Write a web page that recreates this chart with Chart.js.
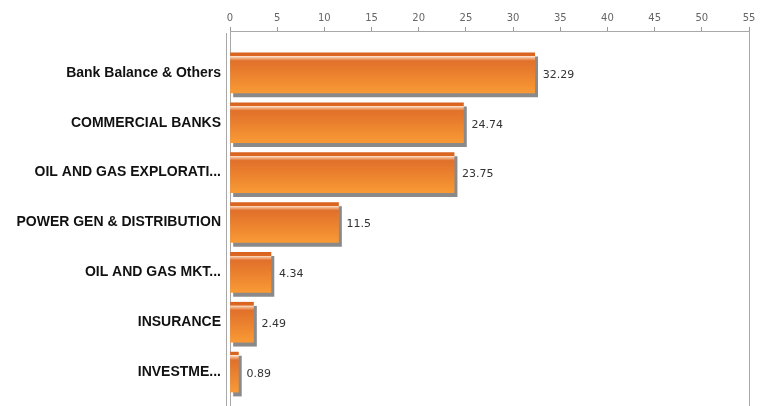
<!DOCTYPE html>
<html>
<head>
<meta charset="utf-8">
<script src="https://cdn.jsdelivr.net/npm/chart.js@4"></script>
<style>
  html, body { margin: 0; padding: 0; background: #fff; overflow: hidden; }
  #wrap { width: 763px; height: 406px; }
</style>
</head>
<body>
<div id="wrap"><canvas id="sectorChart" width="763" height="406"></canvas></div>
<script>
const sectors = [
  'Bank Balance & Others',
  'COMMERCIAL BANKS',
  'OIL AND GAS EXPLORATI...',
  'POWER GEN & DISTRIBUTION',
  'OIL AND GAS MKT...',
  'INSURANCE',
  'INVESTME...'
];
const weights = [32.29, 24.74, 23.75, 11.5, 4.34, 2.49, 0.89];
const xTicks = [0, 5, 10, 15, 20, 25, 30, 35, 40, 45, 50, 55];

// orange bar with dark top strip + light highlight
function barFill(c) {
  const chart = c.chart;
  if (!chart.chartArea) return '#EE8030';
  const y = chart.scales.y.getPixelForValue(c.dataIndex);
  const g = chart.ctx.createLinearGradient(0, y - 20, 0, y + 20);
  g.addColorStop(0, '#D8621E');
  g.addColorStop(0.08, '#DC6822');
  g.addColorStop(0.085, '#FBE4D2');
  g.addColorStop(0.13, '#F3B286');
  g.addColorStop(0.2, '#E1702A');
  g.addColorStop(1, '#F99A35');
  return g;
}

const barShadow = {
  id: 'barShadow',
  beforeDatasetsDraw(chart) {
    const ctx = chart.ctx;
    ctx.save();
    ctx.shadowColor = '#8a8a8a';
    ctx.shadowOffsetX = 3;
    ctx.shadowOffsetY = 4;
    ctx.shadowBlur = 0;
  },
  afterDatasetsDraw(chart) {
    chart.ctx.restore();
  }
};

const valueLabels = {
  id: 'valueLabels',
  afterDatasetsDraw(chart) {
    const ctx = chart.ctx;
    const meta = chart.getDatasetMeta(0);
    ctx.save();
    ctx.font = '11px "DejaVu Sans"';
    ctx.fillStyle = '#333';
    ctx.textBaseline = 'middle';
    ctx.textAlign = 'left';
    meta.data.forEach((bar, i) => {
      ctx.fillText(String(weights[i]), bar.x + 8, bar.y + 2);
    });
    ctx.restore();
  }
};

const frame = {
  id: 'frame',
  afterDraw(chart) {
    const { ctx, chartArea } = chart;
    ctx.save();
    ctx.strokeStyle = '#a8a8a8';
    ctx.lineWidth = 1;
    ctx.beginPath();
    ctx.moveTo(Math.round(chartArea.right) + 0.5, chartArea.top);
    ctx.lineTo(Math.round(chartArea.right) + 0.5, chartArea.bottom);
    ctx.moveTo(Math.round(chartArea.left) - 3.5, chartArea.top + 2);
    ctx.lineTo(Math.round(chartArea.left) - 3.5, chartArea.bottom);
    ctx.stroke();
    ctx.restore();
  }
};

new Chart(document.getElementById('sectorChart'), {
  type: 'bar',
  data: {
    datasets: [{
      data: weights.map((v, i) => ({ x: v, y: i })),
      backgroundColor: barFill,
      borderWidth: 0,
      barThickness: 40
    }]
  },
  options: {
    indexAxis: 'y',
    responsive: false,
    animation: false,
    layout: { padding: { left: 0, right: 14, top: 0, bottom: 0 } },
    plugins: {
      legend: { display: false },
      tooltip: { enabled: false }
    },
    scales: {
      x: {
        position: 'top',
        min: 0,
        max: 55,
        afterBuildTicks: s => { s.ticks = xTicks.map(v => ({ value: v })); },
        afterFit: s => { s.height = 31; },
        grid: { drawOnChartArea: false, tickLength: 4, color: '#999' },
        border: { color: '#a8a8a8' },
        ticks: {
          color: '#666',
          padding: 3,
          maxRotation: 0,
          font: { family: 'DejaVu Sans', size: 10 }
        }
      },
      y: {
        type: 'linear',
        reverse: true,
        offset: false,
        min: -0.84,
        max: 6.68,
        afterBuildTicks: s => { s.ticks = sectors.map((_, i) => ({ value: i })); },
        afterFit: s => { s.width = 230; s.paddingTop = 0; s.paddingBottom = 0; },
        grid: { display: false, drawTicks: false, offset: false },
        border: { color: '#a8a8a8' },
        ticks: {
          color: '#111',
          padding: 9,
          font: { family: 'Liberation Sans', size: 14, weight: 'bold' },
          callback: v => sectors[v] ?? ''
        }
      }
    }
  },
  plugins: [barShadow, valueLabels, frame]
});
</script>
</body>
</html>
